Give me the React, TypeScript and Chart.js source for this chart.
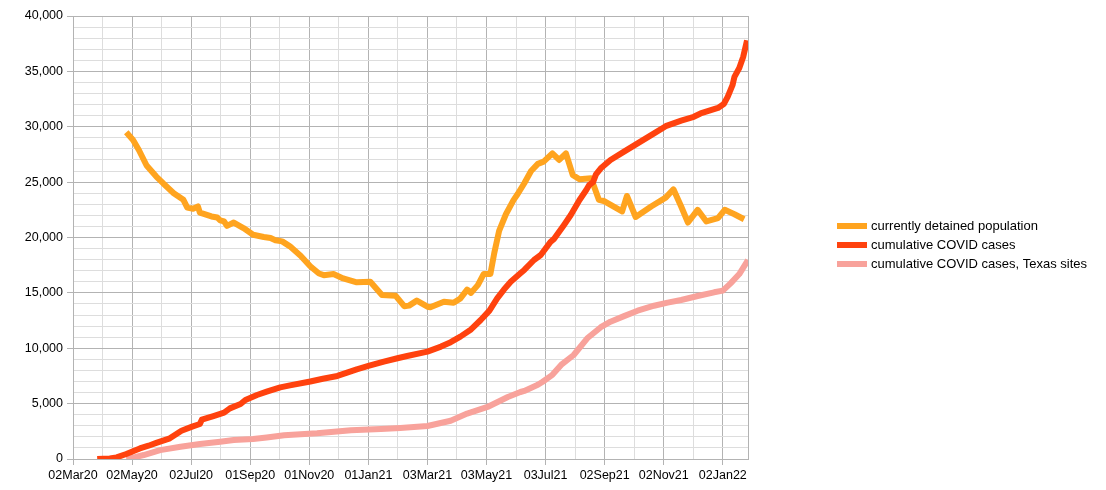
import React, { useEffect, useRef } from "react";
import { Chart, registerables } from "chart.js";

Chart.register(...registerables);

// x values are days since 02 Mar 2020
const xTickLabels = [
  "02Mar20", "02May20", "02Jul20", "01Sep20", "01Nov20", "01Jan21",
  "03Mar21", "03May21", "03Jul21", "02Sep21", "02Nov21", "02Jan22",
];
const xMaxDay = 697;
const yTickValues = Array.from({ length: 41 }, (_, i) => i * 1000);

const seriesNames = [
  "currently detained population",
  "cumulative COVID cases",
  "cumulative COVID cases, Texas sites",
];

const detainedDays = [
  55, 62, 68, 76, 86, 93, 104, 114, 118, 124, 129, 131, 143, 149, 152, 156, 159, 166, 176, 186,
  197, 204, 209, 216, 224, 235, 245, 254, 259, 269, 279, 293, 307, 319, 333, 342, 347, 355, 366, 369,
  383, 393, 400, 407, 411, 418, 424, 431, 435, 440, 447, 455, 459, 466, 473, 480, 486, 495, 502, 509,
  516, 523, 535, 543, 548, 567, 572, 581, 597, 612, 620, 628, 635, 645, 654, 666, 673, 683, 693,
];
const detainedValues = [
  29500, 28800, 27900, 26500, 25500, 24900, 24000, 23400, 22700, 22600, 22800, 22250, 21900, 21800, 21550, 21450, 21050, 21350, 20850, 20250,
  20050, 19950, 19750, 19650, 19200, 18350, 17400, 16750, 16600, 16700, 16300, 15950, 16000, 14800, 14750, 13800, 13850, 14300, 13750, 13700,
  14200, 14100, 14500, 15300, 15000, 15700, 16700, 16700, 18600, 20600, 22100, 23400, 23900, 24900, 26000, 26650, 26850, 27600, 27000, 27600,
  25650, 25250, 25350, 23400, 23300, 22350, 23750, 21850, 22800, 23600, 24350, 22800, 21350, 22500, 21450, 21750, 22500, 22100, 21650,
];

const casesDays = [
  25, 38, 45, 55, 62, 69, 78, 86, 100, 112, 123, 131, 133, 145, 156, 162, 173, 178, 190, 200,
  214, 224, 245, 258, 273, 293, 305, 321, 335, 345, 366, 380, 390, 400, 411, 421, 430, 438, 445, 452,
  462, 466, 476, 483, 493, 497, 507, 514, 523, 530, 533, 537, 540, 545, 555, 569, 583, 600, 612, 628,
  641, 648, 666, 672, 676, 681, 683, 688, 692, 696,
];
const casesValues = [
  0, 50, 150, 450, 700, 950, 1200, 1450, 1870, 2550, 2920, 3160, 3550, 3880, 4180, 4570, 4970, 5330, 5780, 6080,
  6470, 6650, 7000, 7250, 7500, 8100, 8400, 8800, 9100, 9300, 9700, 10150, 10550, 11050, 11700, 12550, 13400, 14500, 15300, 16000,
  16770, 17070, 17970, 18420, 19600, 19900, 21130, 22030, 23390, 24290, 24740, 25000, 25700, 26250, 27000, 27750, 28500, 29400, 30050, 30550,
  30900, 31200, 31700, 32050, 32700, 33750, 34500, 35300, 36300, 37800,
];

const texasDays = [
  55, 62, 73, 90, 111, 131, 152, 166, 186, 200, 218, 252, 287, 318, 338, 366, 390, 407, 428, 449,
  462, 466, 480, 485, 495, 504, 517, 531, 545, 555, 569, 583, 600, 614, 628, 645, 662, 671, 679, 688,
  697,
];
const texasValues = [
  0, 120, 360, 800, 1110, 1350, 1560, 1720, 1810, 1950, 2150, 2320, 2600, 2700, 2800, 2980, 3450, 4100, 4700, 5600,
  6050, 6150, 6700, 6980, 7600, 8490, 9390, 10900, 11900, 12400, 12900, 13390, 13840, 14120, 14360, 14720, 15050, 15200, 15860, 16700,
  17970,
];

const MAJOR = "#b3b3b3";
const MINOR = "#dddddd";
const FONT = '"Liberation Sans", Arial, sans-serif';

const toPoints = (days: number[], values: number[]) =>
  days.map((d, i) => ({ x: d, y: values[i] }));

const sideLegend = {
  id: "sideLegend",
  afterDraw(chart: any) {
    const { ctx, chartArea } = chart;
    const items = chart.data.datasets;
    const midY = chart.height / 2;
    const x0 = chartArea.right + 89;
    ctx.save();
    ctx.font = `13px ${FONT}`;
    ctx.textBaseline = "middle";
    ctx.textAlign = "left";
    items.forEach((ds: any, i: number) => {
      const y = midY + (i - (items.length - 1) / 2) * 19;
      ctx.fillStyle = ds.borderColor;
      ctx.fillRect(x0, y - 3, 30, 6);
      ctx.fillStyle = "#000";
      ctx.fillText(ds.label, x0 + 34, y + 0.5);
    });
    ctx.restore();
  },
};

export default function App() {
  const canvasRef = useRef<HTMLCanvasElement | null>(null);

  useEffect(() => {
    document.body.style.margin = "0";
    const canvas = canvasRef.current;
    if (!canvas) return;
    Chart.defaults.font.family = FONT;
    Chart.defaults.font.size = 12;
    Chart.defaults.color = "#000";

    const xTickValues: number[] = [];
    for (let k = 0; k <= (xTickLabels.length - 1) * 2; k++) xTickValues.push(k * 30.5);
    xTickValues.push(xMaxDay);

    const lineStyle = { borderWidth: 6, pointRadius: 0, borderJoinStyle: "round" as const };

    const chart = new Chart(canvas, {
      type: "line",
      data: {
        datasets: [
          {
            label: seriesNames[0],
            data: toPoints(detainedDays, detainedValues),
            borderColor: "#ffa41f",
            backgroundColor: "#ffa41f",
            ...lineStyle,
            order: 1,
          },
          {
            label: seriesNames[1],
            data: toPoints(casesDays, casesValues),
            borderColor: "#ff420e",
            backgroundColor: "#ff420e",
            ...lineStyle,
            order: 0,
          },
          {
            label: seriesNames[2],
            data: toPoints(texasDays, texasValues),
            borderColor: "#f8a29b",
            backgroundColor: "#f8a29b",
            ...lineStyle,
            order: 2,
          },
        ],
      },
      options: {
        animation: false,
        responsive: false,
        devicePixelRatio: 1,
        layout: { padding: { left: 0, top: 16, right: 358, bottom: 0 } },
        plugins: {
          legend: { display: false },
          tooltip: { enabled: false },
        },
        scales: {
          x: {
            type: "linear",
            min: 0,
            max: xMaxDay,
            afterBuildTicks: (scale: any) => {
              scale.ticks = xTickValues.map((v) => ({ value: v }));
            },
            afterFit: (scale: any) => {
              scale.height = 31;
            },
            grid: {
              color: (c: any) => {
                const v = c.tick ? c.tick.value : 0;
                const k = Math.round(v / 30.5);
                if (Math.abs(v - k * 30.5) > 0.01) return MAJOR;
                return k % 2 === 0 ? MAJOR : MINOR;
              },
              tickColor: (c: any) => {
                const v = c.tick ? c.tick.value : 0;
                const k = Math.round(v / 30.5);
                if (Math.abs(v - k * 30.5) > 0.01) return "rgba(0,0,0,0)";
                return k % 2 === 0 ? MAJOR : "rgba(0,0,0,0)";
              },
              tickLength: 6,
            },
            border: { color: MAJOR },
            ticks: {
              autoSkip: false,
              maxRotation: 0,
              minRotation: 0,
              padding: 3,
              color: "#000",
              font: { size: 12.5, family: FONT },
              callback: (v: any) => {
                const val = Number(v);
                const k = Math.round(val / 30.5);
                if (Math.abs(val - k * 30.5) < 0.01 && k % 2 === 0) return xTickLabels[k / 2];
                return "";
              },
            },
          },
          y: {
            type: "linear",
            min: 0,
            max: 40000,
            afterBuildTicks: (scale: any) => {
              scale.ticks = yTickValues.map((v) => ({ value: v }));
            },
            afterFit: (scale: any) => {
              scale.width = 73;
            },
            grid: {
              color: (c: any) => (c.tick && c.tick.value % 5000 === 0 ? MAJOR : MINOR),
              tickColor: (c: any) =>
                c.tick && c.tick.value % 5000 === 0 ? MAJOR : "rgba(0,0,0,0)",
              tickLength: 6,
            },
            border: { color: MAJOR },
            ticks: {
              autoSkip: false,
              padding: 4,
              color: "#000",
              font: { size: 12.5, family: FONT },
              callback: (v: any) => {
                const val = Number(v);
                return val % 5000 === 0 ? val.toLocaleString("en-US") : "";
              },
            },
          },
        },
      },
      plugins: [sideLegend],
    });
    return () => chart.destroy();
  }, []);

  return (
    <div style={{ width: 1106, height: 490 }}>
      <canvas ref={canvasRef} width={1106} height={490} />
    </div>
  );
}
